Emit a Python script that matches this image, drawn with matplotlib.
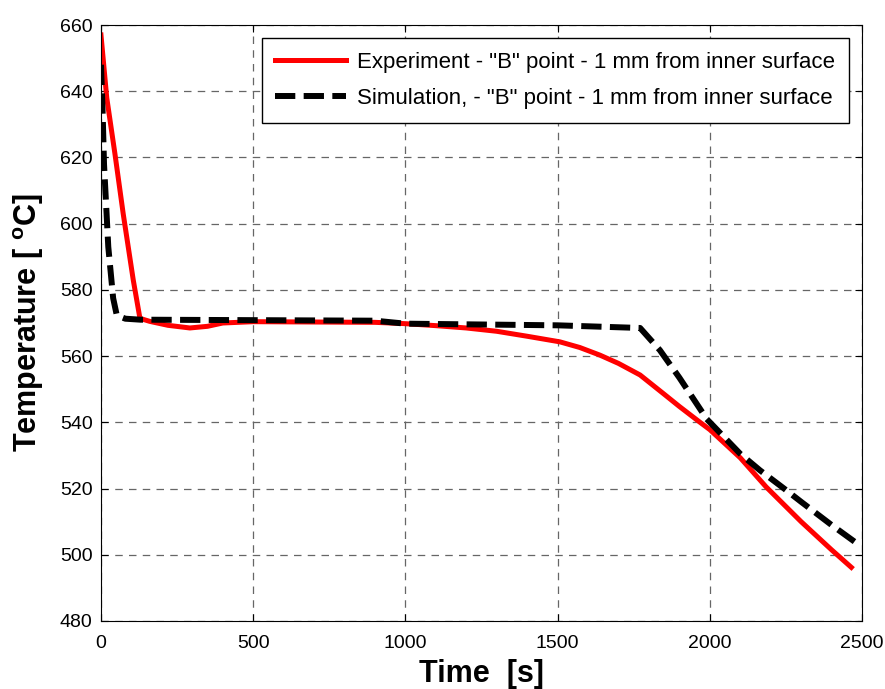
import matplotlib
matplotlib.use("Agg")
import matplotlib.pyplot as plt
import numpy as np

# values
time_exp = [0, 5, 19, 46, 73, 106, 128, 160, 220, 292, 350, 400, 500, 700, 900,
            1000, 1100, 1200, 1300, 1400, 1508, 1573, 1639, 1700, 1771, 1850, 1900,
            1968, 2000, 2100, 2185, 2300, 2400, 2465]
temp_exp = [657, 652, 638, 621, 603, 583, 571.4, 570.5, 569.3, 568.5, 569, 570,
            570.4, 570.3, 570.2, 569.8, 569.2, 568.5, 567.5, 566, 564.3, 562.6,
            560.3, 557.8, 554.3, 548.5, 544.8, 540, 537.8, 529.3, 520.5, 510,
            501.5, 496.2]

time_sim = [0, 5, 10, 24, 40, 52, 80, 130, 400, 900, 1000, 1500, 1771, 1836,
            1900, 1990, 2100, 2165, 2244, 2300, 2400, 2490]
temp_sim = [648, 635, 618, 593, 577.5, 572.3, 571.3, 571, 570.9, 570.7, 569.8,
            569.3, 568.5, 561.8, 553.5, 541, 530.5, 525.5, 520, 516, 509, 503]

label_exp = 'Experiment - "B" point - 1 mm from inner surface'
label_sim = 'Simulation, - "B" point - 1 mm from inner surface'

plt.rcParams["font.family"] = ["Liberation Sans", "DejaVu Sans"]
plt.rcParams["mathtext.fontset"] = "custom"
plt.rcParams["mathtext.bf"] = "Liberation Sans:bold"
plt.rcParams["mathtext.rm"] = "Liberation Sans"

fig = plt.figure(figsize=(8.85, 6.89), dpi=100)
ax = fig.add_axes([0.1141, 0.0987, 0.974 - 0.1141, 0.9637 - 0.0987])

ax.plot(time_exp, temp_exp, color="red", lw=3.6, label=label_exp, solid_joinstyle="round")
ax.plot(time_sim, temp_sim, color="black", lw=4.3, dashes=(3.4, 1.4),
        label=label_sim, dash_capstyle="butt")

ax.set_xlim(0, 2500)
ax.set_ylim(480, 660)
ax.set_xticks(np.arange(0, 2501, 500))
ax.set_yticks(np.arange(480, 661, 20))

ax.grid(True, color="0.4", lw=0.9, linestyle=(0, (6, 5)))
ax.tick_params(direction="in", length=5, width=0.8, labelsize=14,
               top=True, right=True)
ax.tick_params(axis="x", pad=10)
ax.tick_params(axis="y", pad=6)
for sp in ax.spines.values():
    sp.set_linewidth(0.8)

ax.set_xlabel("Time  [s]", fontsize=22, fontweight="bold", labelpad=5)
ax.set_ylabel(r"Temperature [ $^{\mathbf{o}}$C]", fontsize=22,
              fontweight="bold", labelpad=10)

leg = ax.legend(loc="upper right", fontsize=16, fancybox=False, framealpha=1,
                edgecolor="black", handlelength=3.2, borderaxespad=0.6,
                handletextpad=0.5, labelspacing=0.7, borderpad=0.6)
leg.get_frame().set_linewidth(1.0)

fig.savefig("out.png", dpi=100)
